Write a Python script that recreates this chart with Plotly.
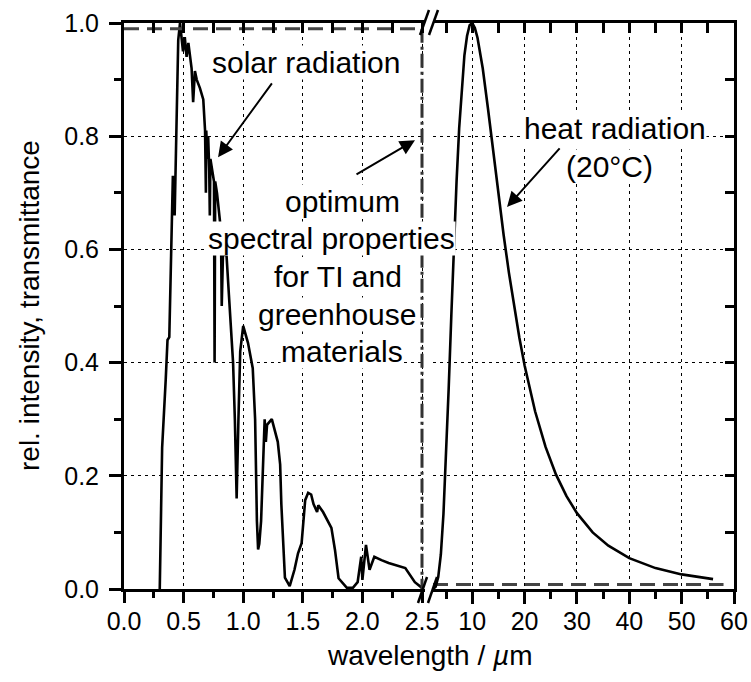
import plotly.graph_objects as go

# ---------------- data ----------------
# solar radiation spectrum (relative intensity), wavelength in micrometres
wl_solar = [0.30, 0.315, 0.32, 0.35, 0.365, 0.38, 0.40, 0.41, 0.425, 0.44, 0.455, 0.47,
            0.48, 0.495, 0.51, 0.525, 0.54, 0.553, 0.567, 0.58, 0.595, 0.61, 0.637,
            0.665, 0.68, 0.687, 0.69, 0.70, 0.706, 0.715, 0.72, 0.725, 0.74, 0.755,
            0.76, 0.765, 0.78, 0.79, 0.805, 0.815, 0.82, 0.83, 0.86, 0.88, 0.90,
            0.915, 0.93, 0.945, 0.96, 0.975, 1.00, 1.04, 1.08, 1.10, 1.115, 1.125,
            1.135, 1.15, 1.18, 1.19, 1.20, 1.24, 1.29, 1.31, 1.32, 1.35, 1.39, 1.43,
            1.46, 1.49, 1.52, 1.545, 1.57, 1.59, 1.62, 1.63, 1.67, 1.74, 1.77, 1.80,
            1.87, 1.92, 1.96, 1.99, 2.00, 2.03, 2.06, 2.10, 2.16, 2.22, 2.36, 2.44, 2.50]
int_solar = [0.0, 0.22, 0.25, 0.37, 0.44, 0.445, 0.66, 0.73, 0.66, 0.80, 0.97, 1.0,
             0.98, 0.95, 0.975, 0.94, 0.965, 0.945, 0.92, 0.86, 0.915, 0.90, 0.885,
             0.865, 0.81, 0.70, 0.81, 0.76, 0.80, 0.74, 0.66, 0.76, 0.74, 0.72,
             0.40, 0.72, 0.70, 0.675, 0.65, 0.60, 0.50, 0.59, 0.59, 0.52, 0.44,
             0.40, 0.30, 0.16, 0.30, 0.42, 0.465, 0.435, 0.39, 0.30, 0.12, 0.07,
             0.08, 0.12, 0.30, 0.26, 0.29, 0.30, 0.26, 0.22, 0.15, 0.02, 0.005, 0.034,
             0.063, 0.081, 0.157, 0.17, 0.167, 0.15, 0.136, 0.148, 0.136, 0.108, 0.069, 0.019,
             0.002, 0.002, 0.012, 0.057, 0.016, 0.078, 0.034, 0.057, 0.051, 0.046, 0.037, 0.012, 0.002]

# heat radiation (20 °C), relative intensity
wl_heat = [2.5, 3.0, 3.5, 4.0, 4.5, 5.0, 5.5, 6.0, 6.5, 7.0, 7.5, 8.0, 8.5, 9.0, 9.5, 10.0,
           10.5, 11, 12, 13, 14, 15, 16, 17, 18, 19, 20, 22, 24, 26, 28, 30, 33, 36,
           40, 45, 50, 56]
int_heat = [0.0, 0.004, 0.021, 0.061, 0.133, 0.234, 0.355, 0.483, 0.608, 0.720, 0.814,
            0.889, 0.943, 0.977, 0.996, 1.0, 0.991, 0.974, 0.920, 0.849, 0.774, 0.698,
            0.625, 0.559, 0.498, 0.444, 0.395, 0.314, 0.251, 0.202, 0.164, 0.134, 0.100,
            0.0765, 0.0545, 0.0369, 0.0258, 0.0174]

# optimum spectral transmittance (step at 2.5 um)
opt_wl_left = [0.0, 2.5]
opt_T_left = [0.99, 0.99]
opt_wl_edge = [2.5, 2.5]
opt_T_edge = [0.99, 0.0]
opt_wl_right = [2.5, 58.0]
opt_T_right = [0.008, 0.008]

# tick labels
left_ticks = [0.0, 0.5, 1.0, 1.5, 2.0, 2.5]
right_ticks = [10, 20, 30, 40, 50, 60]

# ---------------- figure ----------------
FONT = "Liberation Sans, Arial, sans-serif"
fig = go.Figure()

fig.add_trace(go.Scatter(x=wl_solar, y=int_solar, mode="lines", xaxis="x", yaxis="y",
                         line=dict(color="black", width=2.6), showlegend=False))
fig.add_trace(go.Scatter(x=opt_wl_left, y=opt_T_left, mode="lines", xaxis="x", yaxis="y",
                         line=dict(color="#444444", width=3, dash="15px,8px"), showlegend=False))
fig.add_trace(go.Scatter(x=opt_wl_edge, y=opt_T_edge, mode="lines", xaxis="x", yaxis="y",
                         line=dict(color="#333333", width=3, dash="14px,4px,3px,4px"), showlegend=False))
fig.add_trace(go.Scatter(x=opt_wl_right, y=opt_T_right, mode="lines", xaxis="x2", yaxis="y2",
                         line=dict(color="#444444", width=3, dash="15px,8px"), showlegend=False))
fig.add_trace(go.Scatter(x=wl_heat, y=int_heat, mode="lines", xaxis="x2", yaxis="y2",
                         line=dict(color="black", width=2.6), showlegend=False))
# empty traces for top overlay axes (inside ticks) and right-panel grid
fig.add_trace(go.Scatter(x=[], y=[], xaxis="x3", yaxis="y", showlegend=False))
fig.add_trace(go.Scatter(x=[], y=[], xaxis="x4", yaxis="y2", showlegend=False))
fig.add_trace(go.Scatter(x=[], y=[], xaxis="x2", yaxis="y3", showlegend=False))

PL, PR, PT, PB = 124, 17, 23, 93
W, H = 751, 682
pw = W - PL - PR
ph = H - PT - PB
left_range = [0, 2.525]
left_end = (2.525 * 119.2) / pw
right_start = (433 - PL) / pw

tickfont = dict(family=FONT, size=25, color="black")
grid = dict(showgrid=True, gridcolor="black", gridwidth=1.3, griddash="3px,4px")

fig.update_layout(
    width=W, height=H,
    margin=dict(l=PL, r=PR, t=PT, b=PB, autoexpand=False),
    paper_bgcolor="white", plot_bgcolor="white",
    font=dict(family=FONT, color="black"),
    xaxis=dict(domain=[0, left_end], range=left_range, anchor="y", automargin=False,
               tickvals=left_ticks, ticktext=[f"{v:.1f}" for v in left_ticks],
               ticks="outside", ticklen=11, tickwidth=2.5, tickcolor="black", ticklabelstandoff=-3,
               minor=dict(dtick=0.25, tick0=0, ticks="outside", ticklen=6, tickwidth=2.5,
                          tickcolor="black", showgrid=False),
               showline=True, linewidth=3, linecolor="black", mirror=True,
               tickfont=tickfont, zeroline=False, **grid),
    xaxis2=dict(domain=[right_start, 1], range=[2.5, 60], anchor="y2", automargin=False,
                tickvals=right_ticks, ticks="outside", ticklen=12, tickwidth=2.5, tickcolor="black",
                ticklabelstandoff=-4,
                minor=dict(tickvals=[5, 15, 25, 35, 45, 55], ticks="outside", ticklen=7, tickwidth=2.5,
                           tickcolor="black", showgrid=False),
                showline=True, linewidth=3, linecolor="black", mirror=True,
                tickfont=tickfont, zeroline=False, **grid),
    xaxis3=dict(overlaying="x", side="top", anchor="y", range=left_range, automargin=False,
                tickvals=[i * 0.25 for i in range(11)], ticks="inside", ticklen=10, tickwidth=2.5,
                tickcolor="black", showticklabels=False, showline=False, showgrid=False, zeroline=False),
    xaxis4=dict(overlaying="x2", side="top", anchor="y2", range=[2.5, 60], automargin=False,
                tickvals=[5 * i for i in range(1, 13)], ticks="inside", ticklen=10, tickwidth=2.5,
                tickcolor="black", showticklabels=False, showline=False, showgrid=False, zeroline=False),
    yaxis=dict(domain=[0, 1], range=[0, 1], anchor="x", side="left", automargin=False,
               dtick=0.2, tick0=0, tickformat=".1f", ticklabelstandoff=5,
               ticks="outside", ticklen=12, tickwidth=2.5, tickcolor="black",
               minor=dict(dtick=0.1, tick0=0, ticks="outside", ticklen=7, tickwidth=2.5,
                          tickcolor="black", showgrid=False),
               showline=True, linewidth=3, linecolor="black", mirror=False,
               tickfont=tickfont, zeroline=False, **grid),
    yaxis2=dict(domain=[0, 1], range=[0, 1], anchor="x2", side="right", automargin=False,
                dtick=0.1, tick0=0, ticks="inside", ticklen=9, tickwidth=2.5, tickcolor="black",
                showticklabels=False, showline=True, linewidth=3, linecolor="black", mirror=False,
                zeroline=False, showgrid=False),
    yaxis3=dict(overlaying="y2", anchor="x2", range=[0, 1], dtick=0.2, tick0=0, automargin=False,
                showticklabels=False, ticks="", showline=False, zeroline=False,
                side="right", **grid),
)

ann_font = dict(family=FONT, size=30, color="black")
title_font = dict(family=FONT, size=28, color="black")


def ypaper(p):
    return (H - PB - p) / ph


anns = []
# solar radiation label + arrow
anns.append(dict(x=1.527, y=0.93, xref="x", yref="y", text="solar radiation", showarrow=False,
                 font=ann_font, bgcolor="white", borderpad=0))
anns.append(dict(x=0.789, y=0.763, ax=1.25, ay=0.896, xref="x", yref="y", axref="x", ayref="y",
                 text="", showarrow=True, arrowhead=2, arrowsize=1.5, arrowwidth=2, arrowcolor="black",
                 standoff=0))
# optimum spectral properties text (line by line, each with white background)
opt_lines = [("optimum", 1.829, 0.6855), ("spectral properties", 1.737, 0.619),
             ("for TI and", 1.795, 0.552), ("greenhouse", 1.787, 0.485), ("materials", 1.829, 0.419)]
for txt, xx, yy in opt_lines:
    anns.append(dict(x=xx, y=yy, xref="x", yref="y", text=txt, showarrow=False,
                     font=ann_font, bgcolor="white", borderpad=0))
anns.append(dict(x=2.441, y=0.793, ax=1.938, ay=0.731, xref="x", yref="y", axref="x", ayref="y",
                 text="", showarrow=True, arrowhead=2, arrowsize=1.5, arrowwidth=2, arrowcolor="black",
                 standoff=0))
# heat radiation
anns.append(dict(x=37.27, y=0.814, xref="x2", yref="y2", text="heat radiation", showarrow=False,
                 font=ann_font, bgcolor="white", borderpad=0))
anns.append(dict(x=36.3, y=0.747, xref="x2", yref="y2", text="(20°C)", showarrow=False,
                 font=ann_font, bgcolor="white", borderpad=0))
anns.append(dict(x=16.64, y=0.675, ax=26.95, ay=0.781, xref="x2", yref="y2", axref="x2", ayref="y2",
                 text="", showarrow=True, arrowhead=2, arrowsize=1.5, arrowwidth=2, arrowcolor="black",
                 standoff=0))
# axis titles
anns.append(dict(x=0.5, y=ypaper(655), xref="paper", yref="paper",
                 text="wavelength / <i>µ</i>m", showarrow=False, font=title_font,
                 xanchor="center", yanchor="middle"))
anns.append(dict(x=(29 - PL) / pw, y=0.5, xref="paper", yref="paper", textangle=-90,
                 text="rel. intensity, transmittance", showarrow=False, font=title_font,
                 xanchor="center", yanchor="middle"))
fig.update_layout(annotations=anns)


# axis break marks
def px2paper(xp, yp):
    return (xp - PL) / pw, (H - PB - yp) / ph


shapes = []
for (x0, y0, x1, y1) in [(418, 603, 427, 577), (428, 603, 437, 577),
                         (420, 35, 429, 10), (429, 35, 438, 10)]:
    a0, b0 = px2paper(x0, y0)
    a1, b1 = px2paper(x1, y1)
    shapes.append(dict(type="line", xref="paper", yref="paper", x0=a0, y0=b0, x1=a1, y1=b1,
                       line=dict(color="black", width=2.5)))
fig.update_layout(shapes=shapes)

fig.write_html("out.html")
